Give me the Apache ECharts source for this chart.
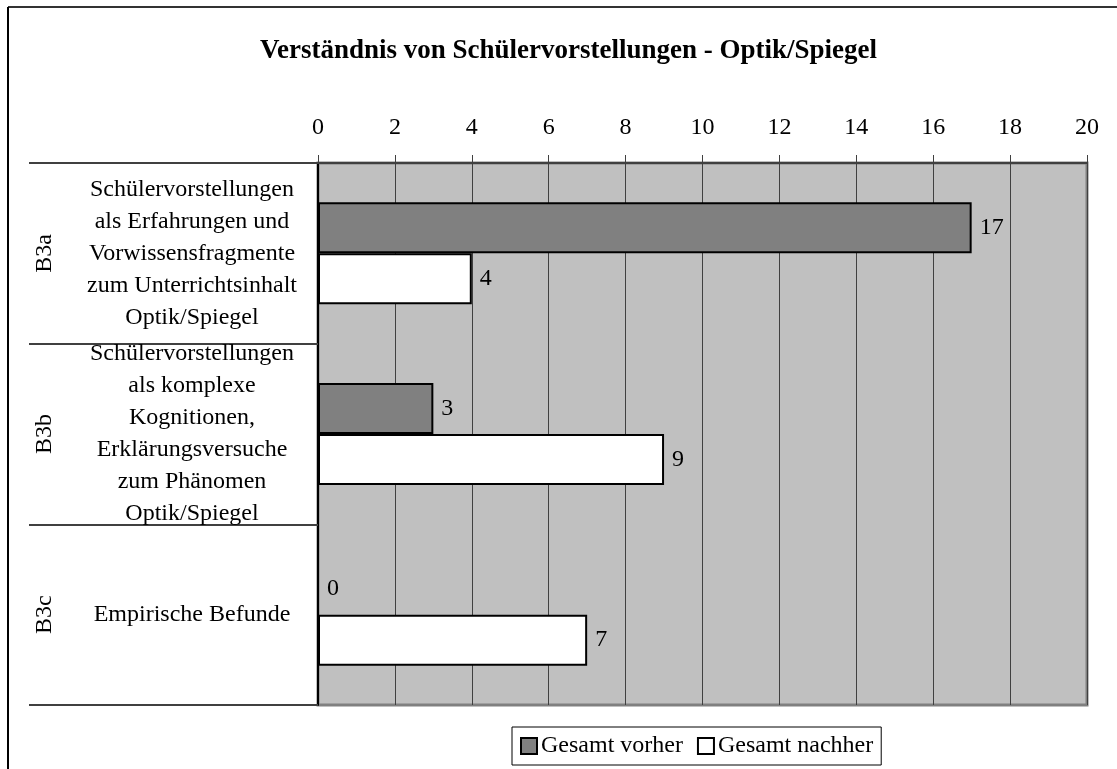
<!DOCTYPE html>
<html>
<head>
<meta charset="utf-8">
<title>Optik/Spiegel</title>
<script src="https://cdn.jsdelivr.net/npm/echarts@6/dist/echarts.min.js"></script>
<style>
  html, body { margin: 0; padding: 0; background: #fff; }
  #echarts1 { width: 1117px; height: 769px; }
</style>
</head>
<body>
<div id="echarts1"></div>
<script>
// kategorien (gruppe + langer text)
var groups = ['B3a', 'B3b', 'B3c'];
var categories = [
  'Schülervorstellungen\nals Erfahrungen und\nVorwissensfragmente\nzum Unterrichtsinhalt\nOptik/Spiegel',
  'Schülervorstellungen\nals komplexe\nKognitionen,\nErklärungsversuche\nzum Phänomen\nOptik/Spiegel',
  'Empirische Befunde'
];
var vorher = [17, 3, 0];
var nachher = [4, 9, 7];
var seriesNames = ['Gesamt vorher', 'Gesamt nachher'];

var FONT = "'Liberation Serif', 'Times New Roman', serif";

var option = {
  backgroundColor: '#fff',
  textStyle: { fontFamily: FONT },
  animation: false,
  title: {
    text: 'Verständnis von Schülervorstellungen - Optik/Spiegel',
    left: 255,
    top: 33,
    textStyle: {
      fontFamily: FONT,
      fontSize: 27,
      fontWeight: 'bold',
      color: '#000'
    }
  },
  legend: {
    data: seriesNames,
    left: 512,
    top: 727,
    itemWidth: 16,
    itemHeight: 16,
    itemGap: 14,
    padding: [7, 8, 7, 8],
    borderColor: '#000',
    borderWidth: 1,
    icon: 'rect',
    textStyle: { fontFamily: FONT, fontSize: 24, color: '#000', padding: [0, 0, 0, -1] }
  },
  grid: {
    left: 318,
    right: 30,
    top: 163,
    bottom: 64,
    show: true,
    backgroundColor: '#c0c0c0',
    borderColor: '#808080',
    borderWidth: 3
  },
  xAxis: {
    type: 'value',
    position: 'top',
    min: 0,
    max: 20,
    interval: 2,
    axisLine: { show: true, lineStyle: { color: '#404040', width: 2 } },
    axisTick: { show: true, length: 8, lineStyle: { color: '#404040' } },
    axisLabel: { fontFamily: FONT, fontSize: 24, color: '#000', margin: 23 },
    splitLine: { show: true, lineStyle: { color: '#404040', width: 1 } }
  },
  yAxis: [
    {
      type: 'category',
      data: categories,
      inverse: true,
      position: 'left',
      axisLine: { show: true, lineStyle: { color: '#000', width: 2 } },
      axisTick: { show: true, length: 289, lineStyle: { color: '#404040', width: 2 } },
      axisLabel: {
        fontFamily: FONT,
        fontSize: 24,
        lineHeight: 32,
        color: '#000',
        align: 'center',
        margin: 126
      }
    },
    {
      type: 'category',
      data: groups,
      inverse: true,
      position: 'left',
      axisLine: { show: false },
      axisTick: { show: false },
      axisLabel: {
        fontFamily: FONT,
        fontSize: 24,
        color: '#000',
        rotate: 90,
        align: 'center',
        verticalAlign: 'middle',
        margin: 273
      }
    }
  ],
  series: [
    {
      name: seriesNames[0],
      type: 'bar',
      yAxisIndex: 0,
      barWidth: 51,
      barGap: '0%',
      itemStyle: { color: '#808080', borderColor: '#000', borderWidth: 2 },
      label: { show: true, position: 'right', distance: 8, fontFamily: FONT, fontSize: 24, color: '#000' },
      data: vorher
    },
    {
      name: seriesNames[1],
      type: 'bar',
      yAxisIndex: 0,
      barWidth: 51,
      barGap: '0%',
      itemStyle: { color: '#fff', borderColor: '#000', borderWidth: 2 },
      label: { show: true, position: 'right', distance: 8, fontFamily: FONT, fontSize: 24, color: '#000' },
      data: nachher
    }
  ],
  graphic: [
    // rahmen oben und links
    { type: 'line', shape: { x1: 8, y1: 7, x2: 1117, y2: 7 }, style: { stroke: '#333', lineWidth: 2 } },
    { type: 'line', shape: { x1: 8, y1: 7, x2: 8, y2: 769 }, style: { stroke: '#000', lineWidth: 2 } }
  ]
};

var myChart1 = echarts.init(document.getElementById('echarts1'));
myChart1.setOption(option);
</script>
</body>
</html>
